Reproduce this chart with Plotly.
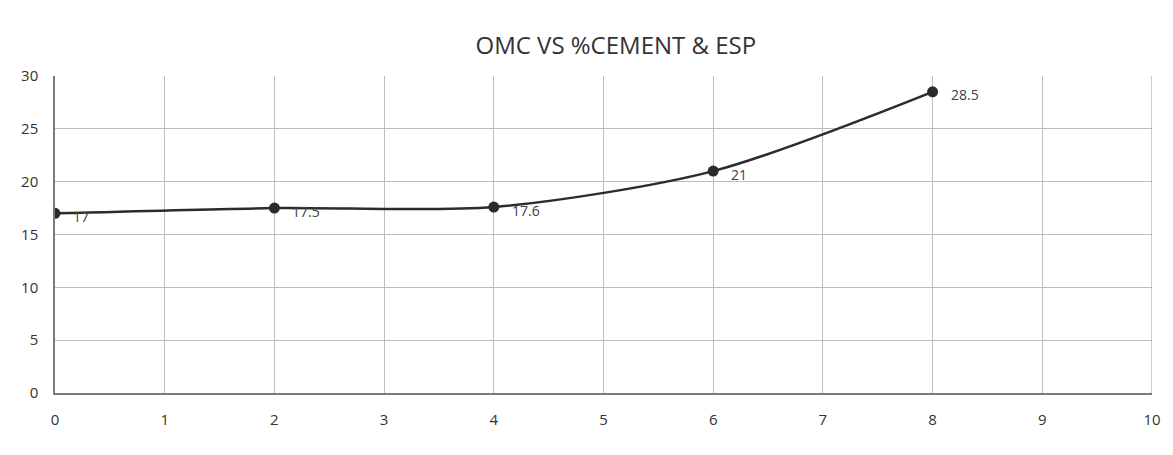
import plotly.graph_objects as go

# OMC against cement / ESP content
cement_pct = [0, 2, 4, 6, 8]
omc = [17, 17.5, 17.6, 21, 28.5]
omc_labels = ["17", "17.5", "17.6", "21", "28.5"]

x_ticks = list(range(0, 11))
y_ticks = [0, 5, 10, 15, 20, 25, 30]

tick_font = dict(family="Open Sans, Liberation Sans, sans-serif", size=15, color="#333333")

fig = go.Figure()
fig.add_trace(go.Scatter(
    x=cement_pct,
    y=omc,
    mode="lines+markers",
    line=dict(shape="spline", smoothing=0.8, color="#2b2b2b", width=2.5),
    marker=dict(size=11, color="#2b2b2b"),
    showlegend=False,
))

# data labels to the right of each point
for xv, yv, lab in zip(cement_pct, omc, omc_labels):
    fig.add_annotation(
        x=xv, y=yv, text=lab, showarrow=False,
        xanchor="left", yanchor="middle", xshift=16, yshift=-3,
        font=dict(family="Open Sans, Liberation Sans, sans-serif", size=14, color="#404040"),
    )

fig.update_layout(
    width=1173,
    height=455,
    margin=dict(l=55, r=13, t=76, b=62),
    paper_bgcolor="white",
    plot_bgcolor="white",
    title=dict(
        text="OMC VS %CEMENT & ESP",
        x=0.525,
        xanchor="center",
        y=0.9,
        yanchor="middle",
        font=dict(family="Open Sans, Liberation Sans, sans-serif", size=24, color="#333333"),
    ),
    xaxis=dict(
        range=[0, 10],
        tickvals=x_ticks,
        showgrid=True,
        gridcolor="#bdbdbd",
        gridwidth=1,
        showline=True,
        linecolor="#7a7a7a",
        linewidth=1.5,
        zeroline=False,
        ticks="",
        ticklabelstandoff=12,
        tickfont=tick_font,
    ),
    yaxis=dict(
        range=[0, 30],
        tickvals=y_ticks,
        showgrid=True,
        gridcolor="#bdbdbd",
        gridwidth=1,
        showline=True,
        linecolor="#7a7a7a",
        linewidth=1.5,
        zeroline=False,
        ticks="",
        ticklabelstandoff=12,
        tickfont=tick_font,
    ),
)

# right-hand border of the plot frame
fig.add_shape(type="line", xref="x", yref="paper", x0=10, x1=10, y0=0, y1=1,
              line=dict(color="#9a9a9a", width=1))

fig.write_html("out.html")
